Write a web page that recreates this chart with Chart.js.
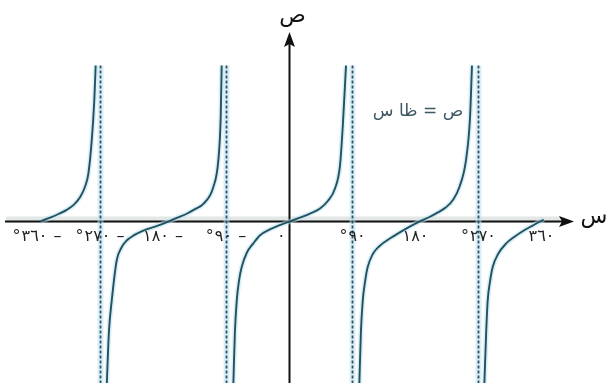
<!DOCTYPE html>
<html lang="ar">
<head>
<meta charset="utf-8">
<script src="https://cdn.jsdelivr.net/npm/chart.js@4/dist/chart.umd.min.js"></script>
<style>
  html, body { margin: 0; padding: 0; background: #ffffff; }
  canvas { display: block; }
</style>
</head>
<body>
<canvas id="c" width="611" height="383"></canvas>
<script>
// Branches of y = tan x, angles in degrees, values in tan units
const branch1Deg = [-356.4, -342, -330, -318.3, -308, -299.3, -292, -287.4, -282.6, -278.9, -276.9];
const branch1Val = [0, 0.3, 0.58, 0.9, 1.3, 1.87, 2.7, 3.67, 6.2, 9.3, 12];

const branch2Deg = [-261.1, -258, -254, -246.9, -240, -232.6, -222, -208.9, -190, -173.1, -160, -146.9, -135, -123.1, -108.9, -101.7, -98.3, -96.9];
const branch2Val = [-12.6, -8.5, -6.1, -3.0, -2.0, -1.46, -1.05, -0.69, -0.35, 0, 0.3, 0.6, 0.95, 1.36, 2.64, 4.7, 8.0, 12];

const branch3Deg = [-80.3, -78, -75.4, -72, -68.3, -61, -52, -42, -28, -14, 0, 15, 30, 43.6, 55, 65, 72.1, 76.4, 80.7];
const branch3Val = [-12.6, -8.5, -6.1, -4.5, -3.5, -2.4, -1.7, -1.05, -0.6, -0.28, 0, 0.3, 0.63, 1.0, 1.6, 2.54, 4.3, 7.6, 12];

const branch4Deg = [99.7, 102, 104.6, 108, 111.7, 119, 128.3, 145, 161.7, 173, 185.4, 200, 212, 223.6, 234, 242.6, 252.1, 257.9, 260.7];
const branch4Val = [-12.6, -8.5, -6.1, -4.6, -3.5, -2.5, -1.9, -1.25, -0.7, -0.35, 0, 0.35, 0.7, 1.1, 1.7, 2.64, 4.7, 8.0, 12];

const branch5Deg = [278.3, 281, 283.1, 286.5, 290.3, 298, 309.3, 322, 333.1, 346, 358, 363];
const branch5Val = [-12.6, -8.5, -6.1, -4.6, -3.5, -2.5, -1.7, -1.15, -0.75, -0.35, 0, 0.15];

// Vertical asymptotes of tan x
const asymptoteDeg = [-270, -90, 90, 270];
const asymptoteTop = 12;

// Angle ticks along the x axis
const tickDeg = [-360, -270, -180, -90, 0, 90, 180, 270, 360];
const tickLabels = ['°٣٦٠ –', '°٢٧٠ –', '١٨٠ –', '°٩٠ –', '٠', '°٩٠', '١٨٠', '°٢٧٠', '٣٦٠'];

const xAxisName = 'س';
const yAxisName = 'ص';
const curveName = 'ص = ظا س';

const X_MIN = -413.6, X_MAX = 459.3;
const Y_MIN = -12.42, Y_MAX = 17.04;

const CURVE = '#24515f';
const HALO = 'rgba(185, 225, 240, 0.55)';
const DASH = '#33506a';

const branches = [
  [branch1Deg, branch1Val],
  [branch2Deg, branch2Val],
  [branch3Deg, branch3Val],
  [branch4Deg, branch4Val],
  [branch5Deg, branch5Val]
];

const toPoints = (xs, ys) => xs.map((x, i) => ({ x: x, y: ys[i] }));

const datasets = [];
branches.forEach(([xs, ys]) => {
  datasets.push({
    data: toPoints(xs, ys),
    borderColor: CURVE,
    borderWidth: 1.9,
    cubicInterpolationMode: 'monotone',
    pointRadius: 0,
    order: 1
  });
  datasets.push({
    data: toPoints(xs, ys),
    borderColor: HALO,
    borderWidth: 5,
    cubicInterpolationMode: 'monotone',
    pointRadius: 0,
    order: 4
  });
});
asymptoteDeg.forEach(a => {
  const pts = [{ x: a, y: asymptoteTop }, { x: a, y: Y_MIN - 1 }];
  datasets.push({
    data: pts,
    borderColor: DASH,
    borderWidth: 1.8,
    borderDash: [3, 2],
    pointRadius: 0,
    order: 2
  });
  datasets.push({
    data: pts,
    borderColor: HALO,
    borderWidth: 6,
    pointRadius: 0,
    order: 3
  });
});

// Axes with arrowheads, axis names, tick labels and the curve caption
const axesPlugin = {
  id: 'axes',
  beforeDatasetsDraw(chart) {
    const ctx = chart.ctx;
    const xs = chart.scales.x, ys = chart.scales.y;
    const x0 = xs.getPixelForValue(0);
    const y0 = ys.getPixelForValue(0);
    ctx.save();
    // soft band along the x axis
    ctx.strokeStyle = 'rgba(215, 222, 220, 0.7)';
    ctx.lineWidth = 6;
    ctx.beginPath();
    ctx.moveTo(6, y0 - 2);
    ctx.lineTo(560, y0 - 2);
    ctx.stroke();

    ctx.strokeStyle = '#111';
    ctx.fillStyle = '#111';
    ctx.lineWidth = 2;
    // x axis
    ctx.beginPath();
    ctx.moveTo(5, y0);
    ctx.lineTo(562, y0);
    ctx.stroke();
    ctx.beginPath();
    ctx.moveTo(574, y0);
    ctx.lineTo(559, y0 - 5.5);
    ctx.lineTo(562, y0);
    ctx.lineTo(559, y0 + 5.5);
    ctx.closePath();
    ctx.fill();
    // y axis
    ctx.beginPath();
    ctx.moveTo(x0, chart.height);
    ctx.lineTo(x0, 44);
    ctx.stroke();
    ctx.beginPath();
    ctx.moveTo(x0, 32);
    ctx.lineTo(x0 - 5.5, 47);
    ctx.lineTo(x0, 44);
    ctx.lineTo(x0 + 5.5, 47);
    ctx.closePath();
    ctx.fill();
    ctx.restore();
  },
  afterDatasetsDraw(chart) {
    const ctx = chart.ctx;
    const xs = chart.scales.x, ys = chart.scales.y;
    const x0 = xs.getPixelForValue(0);
    const y0 = ys.getPixelForValue(0);
    ctx.save();
    ctx.fillStyle = '#222';
    ctx.textBaseline = 'middle';
    ctx.font = '16px "DejaVu Sans"';
    ctx.letterSpacing = '1px';
    tickDeg.forEach((d, i) => {
      const px = xs.getPixelForValue(d);
      if (d === 0) {
        ctx.textAlign = 'right';
        ctx.fillText(tickLabels[i], px - 4, y0 + 15);
      } else {
        ctx.textAlign = 'center';
        ctx.fillText(tickLabels[i], px, y0 + 15);
      }
    });
    ctx.letterSpacing = '0px';
    ctx.fillStyle = '#111';
    ctx.font = '22px "DejaVu Sans"';
    ctx.textAlign = 'center';
    ctx.fillText(xAxisName, 594, y0 - 4);
    ctx.fillText(yAxisName, x0 + 3, 16);
    ctx.fillStyle = '#3d5862';
    ctx.font = '17px "DejaVu Sans"';
    ctx.direction = 'rtl';
    ctx.textAlign = 'center';
    ctx.fillText(curveName, 418, 112);
    ctx.restore();
  }
};

new Chart(document.getElementById('c'), {
  type: 'line',
  data: { datasets: datasets },
  options: {
    responsive: false,
    animation: false,
    devicePixelRatio: 1,
    layout: { padding: 0 },
    plugins: { legend: { display: false }, tooltip: { enabled: false } },
    scales: {
      x: { type: 'linear', min: X_MIN, max: X_MAX, display: false },
      y: { type: 'linear', min: Y_MIN, max: Y_MAX, display: false }
    }
  },
  plugins: [axesPlugin]
});
</script>
</body>
</html>
